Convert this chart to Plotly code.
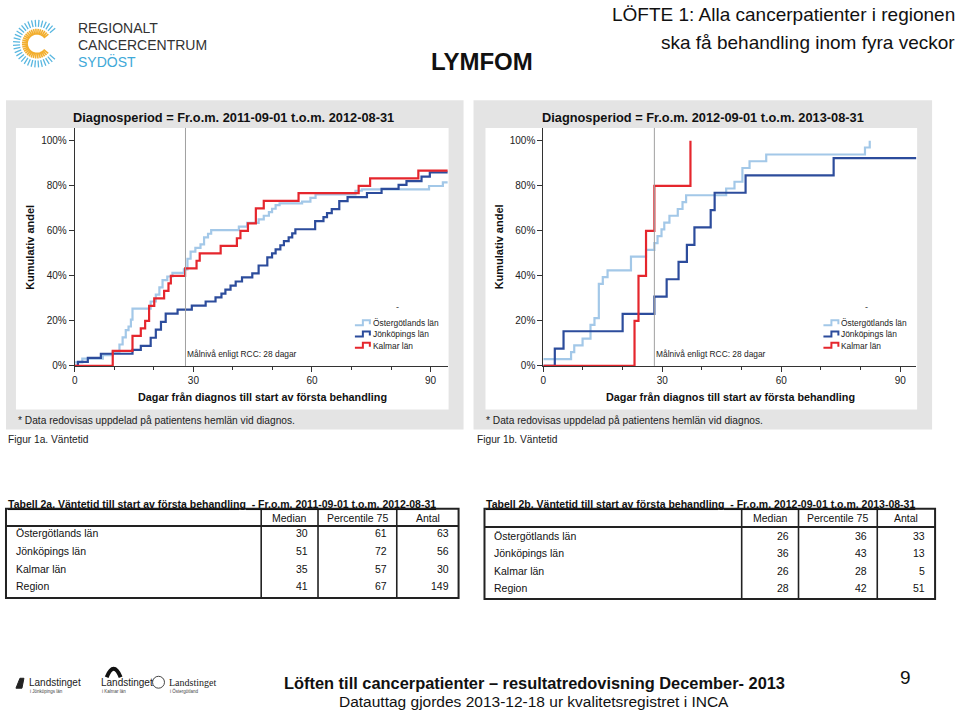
import math
import plotly.graph_objects as go

W, H = 960, 717
def X(px): return px / W
def Y(py): return 1 - py / H

# ---------------- data ----------------
series_names = ["Östergötlands län", "Jönköpings län", "Kalmar län"]
series_colors = ["#A3C8E8", "#2C4C9C", "#E5262D"]
TARGET_DAYS = 28

# Figure 1a (2011-09-01 -- 2012-08-31): cumulative share (%) by days
ost_a_days = [0, 1.9, 7.1, 9.6, 11.3, 12.1, 12.9, 13.6, 14.2, 14.6, 19.2, 20.5, 21.4, 22.2, 23.4, 24.7,
              27.6, 28.5, 29.3, 30.5, 31.8, 32.7, 33.7, 34.5, 41.5, 43.6, 46.5, 47.8, 49.1, 49.9, 50.8,
              51.8, 57.5, 59.6, 60.9, 71.0, 72.6, 89.6, 93.1, 95]
ost_a_pct = [1.6, 3.2, 4.8, 6.3, 9.5, 12.7, 15.9, 17.5, 20.6, 25.4, 28.6, 31.7, 34.9, 38.1, 39.7, 41.3,
             42.9, 47.6, 50.8, 52.4, 54.0, 57.1, 58.7, 60.3, 61.9, 63.5, 65.1, 66.7, 68.3, 69.8, 71.4,
             72.2, 73.0, 74.6, 76.2, 77.8, 78.4, 79.9, 81.5, 81.5]

jon_a_days = [0, 0.8, 3.3, 6.6, 14.6, 16.7, 19.2, 20.5, 21.8, 23, 26, 29.6, 33.1, 35.6, 37.1, 38.1, 39.4,
              40.7, 42.3, 44.9, 46.5, 48.7, 49.9, 50.8, 52, 52.9, 54.1, 55, 55.8, 60.8, 62.9, 63.8, 65,
              66.9, 69, 73.9, 77.6, 81.9, 83.9, 87.7, 89.8, 95]
jon_a_pct = [0, 1.8, 3.6, 5.4, 7.1, 8.9, 12.5, 16.1, 19.6, 23.2, 25, 26.8, 28.6, 30.4, 32.1, 33.9, 35.7,
             37.5, 39.3, 41.1, 44.6, 48.2, 50, 51.8, 53.6, 55.4, 57.1, 58.9, 60.7, 64.3, 66.1, 67.9, 69.6,
             73.2, 75, 76.8, 78.6, 80.4, 82.1, 84.1, 86.0, 86.0]

kal_a_days = [0, 9.6, 14.6, 16.7, 17.8, 18.8, 20.1, 22.6, 23.7, 24.3, 27.9, 30.8, 31.6, 36.9, 41, 41.9,
              43.8, 45.8, 47.8, 56.6, 71.8, 74.7, 86.9, 95]
kal_a_pct = [0, 6.7, 13.3, 16.7, 20, 26.7, 30, 33.3, 36.7, 40, 43.3, 46.7, 50, 53.3, 56.7, 60,
             63.3, 70, 73.3, 76.7, 80, 83.3, 86.7, 86.7]

# Figure 1b (2012-09-01 -- 2013-08-31)
ost_b_days = [0, 7, 7.8, 9.9, 11.9, 12.9, 14, 15, 16.2, 22.1, 25.9, 28, 28.8, 29.8, 30.5, 31.8, 33.9,
              35.1, 36, 46.1, 48.2, 50.2, 52, 56.2, 81.1, 82.3]
ost_b_pct = [3, 6.1, 9.1, 12.1, 18.2, 21.2, 36.4, 39.4, 42.4, 48.5, 51.5, 54.5, 57.6, 60.6, 63.6, 66.7,
             69.7, 72.7, 75.8, 78.8, 81.8, 87.9, 90.9, 93.9, 97, 100]

jon_b_days = [0, 2.9, 5.1, 20, 28, 31.1, 34.1, 36.2, 38.1, 42.2, 43.2, 51, 73.2, 95]
jon_b_pct = [0, 7.7, 15.4, 23.1, 30.8, 38.5, 46.2, 53.8, 61.5, 69.2, 76.9, 84.6, 92.3, 92.3]

kal_b_days = [0, 23, 24, 25.9, 28, 37.1]
kal_b_pct = [0, 20, 40, 60, 80, 100]

y_ticks = [0, 20, 40, 60, 80, 100]
y_ticktext = ["0%", "20%", "40%", "60%", "80%", "100%"]
x_ticks = [0, 30, 60, 90]

# Tables
table_rows = ["Östergötlands län", "Jönköpings län", "Kalmar län", "Region"]
table_header = ["Median", "Percentile 75", "Antal"]
tabA_median = [30, 51, 35, 41]
tabA_p75 = [61, 72, 57, 67]
tabA_n = [63, 56, 30, 149]
tabB_median = [26, 36, 26, 28]
tabB_p75 = [36, 43, 28, 42]
tabB_n = [33, 13, 5, 51]

# ---------------- figure ----------------
FONT = "Liberation Sans"

fig = go.Figure()

sets = [
    ("x", "y", [(ost_a_days, ost_a_pct), (jon_a_days, jon_a_pct), (kal_a_days, kal_a_pct)]),
    ("x2", "y2", [(ost_b_days, ost_b_pct), (jon_b_days, jon_b_pct), (kal_b_days, kal_b_pct)]),
]
for xa, ya, data in sets:
    for (d, p), name, col in zip(data, series_names, series_colors):
        fig.add_trace(go.Scatter(x=d, y=p, mode="lines", line=dict(shape="hv", color=col, width=2.2),
                                 name=name, showlegend=False, xaxis=xa, yaxis=ya, hoverinfo="skip"))

shapes = []
annotations = []

def txt(x, y, text, size, anchor="left", color="#111", family=FONT, **kw):
    annotations.append(dict(xref="paper", yref="paper", x=X(x), y=Y(y), text=text, showarrow=False,
                            xanchor=anchor, yanchor="middle", font=dict(family=family, size=size, color=color),
                            **kw))

# panels
for gx0, gx1, wx0, wx1 in [(3, 462, 13, 447), (472, 932, 484, 917)]:
    shapes.append(dict(type="rect", xref="paper", yref="paper", x0=X(gx0), x1=X(gx1), y0=Y(433), y1=Y(101),
                       fillcolor="#E4E4E4", line=dict(width=0), layer="below"))
    shapes.append(dict(type="rect", xref="paper", yref="paper", x0=X(wx0), x1=X(wx1), y0=Y(413), y1=Y(129),
                       fillcolor="#FFFFFF", line=dict(width=0), layer="below"))

axis_common = dict(showgrid=False, zeroline=False, showline=True, linecolor="#333", linewidth=1,
                   ticks="outside", tickcolor="#333", ticklen=5, tickwidth=1,
                   tickfont=dict(family=FONT, size=10, color="#222"))

layout_axes = {}
for i, (px0, px1, xmax) in enumerate([(72, 446, 94.3), (542, 916, 94.0)]):
    sfx = "" if i == 0 else "2"
    layout_axes["xaxis" + sfx] = dict(axis_common, domain=[X(px0), X(px1)], range=[0, xmax],
                                      tickmode="array", tickvals=x_ticks, anchor="y" + sfx,
                                      minor=dict(tickmode="linear", tick0=0, dtick=10, ticks="outside",
                                                 ticklen=3, tickcolor="#333"))
    layout_axes["yaxis" + sfx] = dict(axis_common, domain=[Y(369), Y(129)], range=[0, 105.7],
                                      tickmode="array", tickvals=y_ticks, ticktext=y_ticktext,
                                      anchor="x" + sfx)
    shapes.append(dict(type="line", xref="x" + sfx, yref="y" + sfx + " domain", x0=TARGET_DAYS, x1=TARGET_DAYS,
                       y0=0, y1=1, line=dict(color="#A0A0A0", width=1)))
    annotations.append(dict(xref="x" + sfx, yref="paper", x=TARGET_DAYS, y=Y(357),
                            text="Målnivå enligt RCC: 28 dagar", showarrow=False, xanchor="left",
                            yanchor="middle", font=dict(family=FONT, size=8.4, color="#222")))

# legends (manual, step symbols)
for lx in [353, 823]:
    txt(lx + 43, 310, "-", 9, anchor="center", color="#333")
    for k, (name, col) in enumerate(zip(series_names, series_colors)):
        yy = 326 + k * 11.3
        path = "M {} {} L {} {} L {} {} L {} {} L {} {}".format(
            X(lx), Y(yy + 2), X(lx + 8), Y(yy + 2), X(lx + 8), Y(yy - 3), X(lx + 15), Y(yy - 3),
            X(lx + 15), Y(yy + 1))
        shapes.append(dict(type="path", xref="paper", yref="paper", path=path, line=dict(color=col, width=2)))
        txt(lx + 16, yy, name, 8.4, color="#222")

# panel texts
for cx, title, fig_lbl, fx, ylab_x, xt_cx in [
        (231, "Diagnosperiod = Fr.o.m. 2011-09-01 t.o.m. 2012-08-31", "Figur 1a. Väntetid", 3, 27, 260),
        (702, "Diagnosperiod = Fr.o.m. 2012-09-01 t.o.m. 2013-08-31", "Figur 1b. Väntetid", 473, 497, 730)]:
    txt(cx, 118, "<b>" + title + "</b>", 12.8, anchor="center")
    txt(ylab_x, 249, "<b>Kumulativ andel</b>", 11, anchor="center", textangle=-90)
    txt(xt_cx, 400, "<b>Dagar från diagnos till start av första behandling</b>", 10.8, anchor="center")
    txt(fx + 10, 424, "* Data redovisas uppdelad på patientens hemlän vid diagnos.", 10.2, color="#222")
    txt(fx, 443, fig_lbl, 10.2, color="#222")

# tables (text + borders)
tables = [
    dict(x0=3, x1=457, cols=[259, 316, 395], yt=513, yh=530.5, yb=603, rows_y=[538, 556, 574, 591],
         vals=[tabA_median, tabA_p75, tabA_n],
         title="Tabell 2a. Väntetid till start av första behandling  - Fr.o.m. 2011-09-01 t.o.m. 2012-08-31"),
    dict(x0=483, x1=935, cols=[741, 798, 877], yt=513, yh=531.5, yb=604, rows_y=[541, 558, 576, 593],
         vals=[tabB_median, tabB_p75, tabB_n],
         title="Tabell 2b. Väntetid till start av första behandling  - Fr.o.m. 2012-09-01 t.o.m. 2013-08-31"),
]
for t in tables:
    txt(t["x0"], 508, "<b><u>" + t["title"] + "</u></b>", 10.5)
    shapes.append(dict(type="rect", xref="paper", yref="paper", x0=X(t["x0"]), x1=X(t["x1"]),
                       y0=Y(t["yb"]), y1=Y(t["yt"]), line=dict(color="#222", width=2)))
    shapes.append(dict(type="line", xref="paper", yref="paper", x0=X(t["x0"]), x1=X(t["x1"]),
                       y0=Y(t["yh"]), y1=Y(t["yh"]), line=dict(color="#222", width=2)))
    for c in t["cols"]:
        shapes.append(dict(type="line", xref="paper", yref="paper", x0=X(c), x1=X(c), y0=Y(t["yb"]),
                           y1=Y(t["yt"]), line=dict(color="#222", width=1.6)))
    edges = t["cols"] + [t["x1"]]
    hy = (t["yt"] + t["yh"]) / 2 + 0.5
    for j, h in enumerate(table_header):
        txt((edges[j] + edges[j + 1]) / 2, hy, h, 10.5, anchor="center")
    for r, ry in enumerate(t["rows_y"]):
        txt(t["x0"] + 8, ry, table_rows[r], 10.5)
        for j, col_vals in enumerate(t["vals"]):
            txt(edges[j + 1] - 8, ry, str(col_vals[r]), 10.5, anchor="right")

# header
txt(957, 15, "LÖFTE 1: Alla cancerpatienter i regionen", 19, anchor="right")
txt(957, 43, "ska få behandling inom fyra veckor", 19, anchor="right")
txt(481, 62, "<b>LYMFOM</b>", 24, anchor="center")
txt(73, 28, "REGIONALT", 14, color="#333")
txt(73, 45, "CANCERCENTRUM", 14, color="#333")
txt(73, 62, "SYDÖST", 14, color="#3FA9D8")

# logo rays
cxl, cyl = 34, 44
yel, blu = [], []
for a in range(40, 325, 9):
    r = math.radians(a)
    ca, sa = math.cos(r), -math.sin(r)
    yel.append("M {} {} L {} {}".format(X(cxl + 9 * ca), Y(cyl + 9 * sa), X(cxl + 15 * ca), Y(cyl + 15 * sa)))
    blu.append("M {} {} L {} {}".format(X(cxl + 17 * ca), Y(cyl + 17 * sa), X(cxl + 24 * ca), Y(cyl + 24 * sa)))
shapes.append(dict(type="path", xref="paper", yref="paper", path=" ".join(yel), line=dict(color="#F2AE2E", width=1.6)))
shapes.append(dict(type="path", xref="paper", yref="paper", path=" ".join(blu), line=dict(color="#59B7E0", width=1.3)))

# footer
txt(533, 689, "<b>Löften till cancerpatienter – resultatredovisning December- 2013</b>", 16.4, anchor="center")
txt(533, 707, "Datauttag gjordes 2013-12-18 ur kvalitetsregistret i INCA", 15.5, anchor="center")
txt(905, 683, "9", 19, anchor="center")
for lx, main, sub, fam in [(24, "Landstinget", "i Jönköpings län", FONT),
                           (96, "Landstinget", "i Kalmar län", FONT),
                           (165, "Landstinget", "i Östergötland", "Liberation Serif")]:
    txt(lx, 688, main, 10, family=fam, color="#222")
    txt(lx + 1, 697, sub, 4.5, color="#444")
shapes.append(dict(type="path", xref="paper", yref="paper",
                   path="M {} {} L {} {} L {} {} L {} {} Z".format(X(13), Y(694), X(17), Y(684), X(21), Y(684), X(19), Y(694)),
                   fillcolor="#222", line=dict(color="#222", width=1)))
shapes.append(dict(type="path", xref="paper", yref="paper",
                   path="M {} {} Q {} {} {} {}".format(X(104), Y(683), X(111), Y(666), X(118), Y(683)),
                   line=dict(color="#111", width=4)))
shapes.append(dict(type="circle", xref="paper", yref="paper", x0=X(150), x1=X(162), y0=Y(694), y1=Y(682),
                   line=dict(color="#444", width=1)))

fig.update_layout(width=W, height=H, margin=dict(l=0, r=0, t=0, b=0), paper_bgcolor="white",
                  plot_bgcolor="rgba(0,0,0,0)", showlegend=False, shapes=shapes, annotations=annotations,
                  font=dict(family=FONT), **layout_axes)

fig.write_html("out.html", config={"displayModeBar": False},
               post_script="document.body.style.margin='0';document.body.style.overflow='hidden';")
